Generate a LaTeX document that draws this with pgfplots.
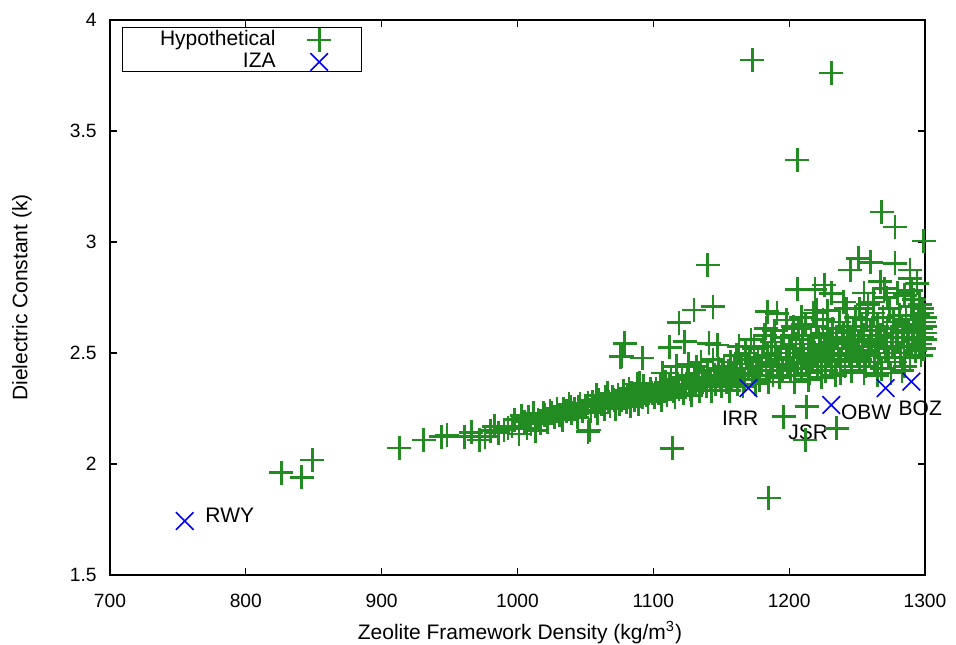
\documentclass[border=0pt]{standalone}
\usepackage{pgfplots}
\pgfplotsset{compat=1.18}
\usepackage{pgfplotstable}
\usepackage{fontspec}
\setmainfont{Liberation Sans}
\definecolor{hypgreen}{RGB}{34,139,34}
\definecolor{izablue}{RGB}{0,0,255}

\pgfplotstableread{
x y
826 1.961
841 1.940
849 2.018
913 2.072
931 2.108
944 2.123
948 2.131
961 2.123
966 2.143
972 2.108
976 2.123
980 2.15
983 2.17
986 2.141
990 2.153
993 2.16
996 2.17
998 2.20
1001 2.135
1003 2.218
1005 2.19
1007 2.16
1008 2.21
1010 2.18
1012 2.23
1013 2.15
1015 2.20
1017 2.183
1019 2.228
1020 2.22
1022 2.19
1024 2.24
1025 2.228
1027 2.21
1029 2.25
1031 2.22
1033 2.20
1034 2.250
1036 2.24
1038 2.27
1039 2.258
1040 2.23
1042 2.25
1044 2.21
1045 2.258
1046 2.27
1048 2.24
1050 2.26
1052 2.273
1052 2.146
1053 2.153
1054 2.24
1055 2.28
1057 2.26
1058 2.31
1059 2.23
1060 2.29
1062 2.27
1064 2.25
1065 2.30
1066 2.32
1067 2.28
1068 2.26
1070 2.303
1071 2.29
1072 2.25
1074 2.31
1075 2.27
1076 2.483
1077 2.486
1077 2.29
1078 2.33
1079 2.544
1080 2.28
1081 2.30
1082 2.34
1083 2.26
1084 2.32
1086 2.29
1087 2.31
1088 2.36
1089 2.27
1090 2.365
1090 2.33
1092 2.477
1092 2.30
1093 2.35
1095 2.31
1096 2.28
1098 2.34
1099 2.32
1101 2.30
1102 2.34
1104 2.32
1105 2.36
1106 2.29
1107 2.41
1108 2.33
1109 2.37
1110 2.31
1112 2.526
1112 2.35
1113 2.38
1114 2.071
1115 2.33
1116 2.30
1117 2.44
1118 2.36
1119 2.637
1119 2.34
1121 2.39
1122 2.32
1123 2.551
1124 2.36
1125 2.40
1126 2.45
1127 2.34
1128 2.31
1130 2.694
1130 2.38
1131 2.36
1132 2.438
1133 2.41
1134 2.33
1135 2.46
1136 2.37
1137 2.39
1139 2.35
1140 2.896
1140 2.42
1141 2.544
1142 2.38
1143 2.33
1144 2.709
1144 2.47
1145 2.40
1146 2.36
1147 2.536
1148 2.43
1149 2.38
1150 2.35
1151 2.40
1152 2.44
1154 2.37
1155 2.42
1156 2.33
1157 2.46
1158 2.39
1160 2.43
1161 2.49
1162 2.36
1163 2.53
1164 2.41
1165 2.45
1166 2.35
1167 2.38
1168 2.50
1170 2.43
1171 2.47
1172 2.56
1173 3.820
1173 2.40
1174 2.52
1175 2.36
1176 2.44
1177 2.48
1178 2.38
1180 2.46
1181 2.53
1182 2.58
1183 2.611
1183 2.42
1184 2.686
1184 2.49
1185 1.847
1185 2.37
1186 2.45
1187 2.55
1188 2.40
1189 2.60
1190 2.50
1191 2.679
1191 2.44
1192 2.47
1193 2.39
1194 2.53
1195 2.42
1196 2.213
1196 2.57
1198 2.649
1198 2.48
1199 2.45
1200 2.52
1201 2.43
1202 2.58
1203 2.618
1203 2.48
1204 2.40
1204 2.37
1205 2.54
1206 3.369
1206 2.787
1206 2.46
1207 2.61
1208 2.50
1209 2.43
1209 2.66
1210 2.56
1211 2.49
1212 2.108
1212 2.63
1213 2.258
1213 2.45
1214 2.52
1214 2.38
1215 2.41
1216 2.58
1217 2.47
1218 2.54
1218 2.68
1219 2.787
1219 2.50
1220 2.694
1220 2.62
1221 2.44
1222 2.57
1223 2.51
1224 2.48
1224 2.39
1225 2.65
1226 2.806
1226 2.53
1227 2.42
1228 2.59
1228 2.69
1229 2.49
1230 2.55
1231 3.761
1231 2.769
1231 2.46
1232 2.61
1233 2.52
1234 2.40
1235 2.161
1235 2.57
1236 2.50
1237 2.64
1238 2.47
1238 2.41
1239 2.54
1240 2.59
1240 2.73
1241 2.44
1242 2.52
1242 2.70
1243 2.62
1244 2.49
1245 2.874
1245 2.56
1246 2.46
1246 2.42
1247 2.60
1248 2.53
1249 2.66
1250 2.50
1251 2.926
1251 2.55
1252 2.47
1252 2.70
1253 2.62
1254 2.51
1255 2.58
1255 2.41
1255 2.77
1256 2.44
1257 2.65
1258 2.53
1258 2.72
1259 2.49
1260 2.908
1260 2.60
1261 2.56
1262 2.68
1262 2.73
1263 2.46
1264 2.54
1265 2.62
1265 2.40
1266 2.50
1267 2.821
1267 2.58
1268 3.135
1268 2.43
1269 2.66
1270 2.55
1270 2.79
1271 2.52
1272 2.61
1272 2.75
1273 2.48
1274 2.70
1275 2.57
1275 2.41
1276 2.53
1277 2.64
1278 3.068
1278 2.904
1278 2.46
1279 2.59
1280 2.55
1280 2.77
1281 2.67
1282 2.50
1283 2.62
1283 2.42
1284 2.57
1285 2.44
1285 2.76
1286 2.65
1287 2.53
1288 2.60
1289 2.874
1289 2.837
1289 2.48
1290 2.71
1290 2.78
1291 2.56
1292 2.63
1292 2.74
1293 2.51
1294 2.814
1294 2.59
1295 2.67
1296 2.54
1296 2.72
1297 2.61
1297 2.49
1298 2.700
1298 2.57
1298 2.68
1299 3.005
1299 2.64
1299 2.52
1300 2.59
1300 2.56
1300 2.62
1300 2.66
}\hyptable

\pgfplotstableread{
x y
755 1.743
1170 2.342
1231 2.266
1271 2.342
1290 2.371
}\izatable

\begin{document}
\fontsize{10.5}{12}\selectfont
\begin{tikzpicture}
\begin{axis}[
  scale only axis, width=407.5pt, height=277.5pt,
  xmin=700, xmax=1300, ymin=1.5, ymax=4,
  xtick={700,800,...,1300}, ytick={1.5,2,2.5,3,3.5,4},
  clip=false, axis on top,
  /pgf/number format/assume math mode=true,
  /pgf/number format/1000 sep={},
  tick align=inside, major tick length=3.5pt,
  axis line style={line width=0.8pt},
  every tick/.style={black, line width=0.6pt},
  ticklabel style={font=\fontsize{9.6}{11}\selectfont},
  xticklabel style={anchor=base, yshift=-16.3pt},
  yticklabel style={anchor=east, inner xsep=0pt, xshift=-6.5pt},
  xlabel={Zeolite Framework Density (kg/m\textsuperscript{3})},
  ylabel={Dielectric Constant (k)},
  every axis x label/.style={at={(axis description cs:0.503,-0.116)}, anchor=base, font=\fontsize{10.5}{12}\selectfont},
  every axis y label/.style={at={(axis description cs:-0.108,0.5)}, anchor=center, rotate=90, font=\fontsize{10.5}{12}\selectfont},
  legend style={at={(axis description cs:0,1)}, anchor=north west, xshift=6pt, yshift=-3.5pt,
    draw=black, line width=0.6pt, inner xsep=0pt, inner ysep=0.3pt, row sep=0.7pt, column sep=0pt,
    font=\fontsize{10.5}{12}\selectfont,
    nodes={inner sep=0pt, text height=7.8pt, text depth=2.5pt}},
  legend cell align=right,
  legend plot pos=right,
  legend image code/.code={\path (0pt,-0.75pt) (42.5pt,-0.75pt);
     \begin{pgfinterruptboundingbox}\draw[#1] plot coordinates {(21.5pt,-0.75pt)};\end{pgfinterruptboundingbox}},
]
\addplot[only marks, mark=+, color=hypgreen, mark size=6pt, mark options={line width=1.35pt}] table[x=x, y=y] {\hyptable};
\addlegendentry{\raisebox{-1pt}{\makebox[76.5pt][r]{Hypothetical}}}
\addplot[only marks, mark=x, color=izablue, mark size=6.2pt, mark options={line width=0.8pt}] table[x=x, y=y] {\izatable};
\addlegendentry{\raisebox{-1pt}{\makebox[76.5pt][r]{IZA}}}
\node[anchor=west, inner sep=0pt] at (axis cs:770,1.77) {RWY};
\node[inner sep=0pt] at (axis cs:1163.9,2.207) {IRR};
\node[inner sep=0pt] at (axis cs:1214,2.144) {JSR};
\node[inner sep=0pt] at (axis cs:1256.7,2.234) {OBW};
\node[inner sep=0pt] at (axis cs:1296.5,2.252) {BOZ};
\end{axis}
\pgfresetboundingbox
\path[use as bounding box] (-55pt,-34.5pt) rectangle (423pt,287.5pt);
\end{tikzpicture}
\end{document}
